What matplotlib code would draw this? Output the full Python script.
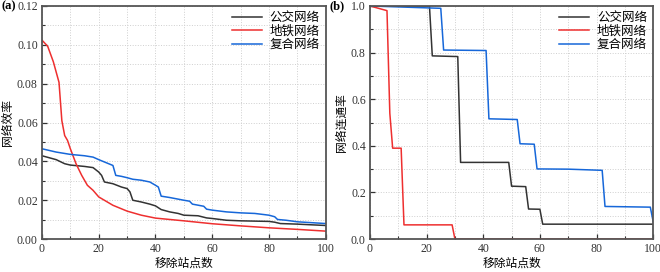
import numpy as np
import matplotlib.pyplot as plt
from matplotlib.ticker import MultipleLocator

plt.rcParams['font.family'] = ['Liberation Serif', 'Noto Sans CJK SC']

# (a) 网络效率
bus_x = [0, 5, 8, 10, 15, 18, 20, 21, 22, 25, 28, 30, 31, 32, 35, 38, 40, 42, 45, 48, 50, 55, 58, 60, 65, 70, 80, 82, 84, 90, 100]
bus_eff = [0.0429, 0.0409, 0.0388, 0.0381, 0.0374, 0.0368, 0.0345, 0.0328, 0.0294, 0.0285, 0.0268, 0.026, 0.0243, 0.020,
           0.0191, 0.018, 0.0171, 0.0152, 0.014, 0.0132, 0.0123, 0.012, 0.0109, 0.0106, 0.0097, 0.0094, 0.0091, 0.0087,
           0.008, 0.0077, 0.007]
metro_x = [0, 2, 4, 6, 7, 8, 9, 10, 12, 14, 16, 18, 20, 25, 30, 35, 40, 50, 60, 70, 80, 90, 100]
metro_eff = [0.1024, 0.0993, 0.0913, 0.0807, 0.061, 0.0533, 0.0508, 0.0465, 0.0388, 0.0328, 0.0277, 0.0251, 0.0217,
             0.0174, 0.0144, 0.0123, 0.0108, 0.0094, 0.0079, 0.0068, 0.0058, 0.005, 0.0041]
comp_x = [0, 5, 10, 15, 18, 20, 23, 25, 26, 28, 30, 32, 35, 38, 40, 41, 42, 45, 50, 52, 53, 57, 58, 60, 65, 70, 75, 80,
          82, 83, 86, 90, 100]
comp_eff = [0.0465, 0.0448, 0.0436, 0.0429, 0.0422, 0.0409, 0.0391, 0.0379, 0.0328, 0.0323, 0.0316, 0.0308, 0.0303,
            0.0294, 0.0277, 0.0268, 0.0221, 0.0214, 0.020, 0.0195, 0.018, 0.0169, 0.0154, 0.0149, 0.014, 0.0135, 0.0132,
            0.0123, 0.0115, 0.0101, 0.0097, 0.0089, 0.008]

# (b) 网络连通率
bus_cx = [0, 21, 22, 31, 32, 49, 50, 55, 56, 60, 61, 100]
bus_con = [1.0, 1.0, 0.786, 0.783, 0.329, 0.329, 0.227, 0.225, 0.129, 0.128, 0.064, 0.064]
metro_cx = [0, 6, 7, 8, 11, 12, 29, 30, 100]
metro_con = [1.0, 0.98, 0.54, 0.39, 0.39, 0.061, 0.061, 0.0, 0.0]
comp_cx = [0, 25, 26, 41, 42, 52, 53, 58, 59, 70, 82, 83, 99, 100]
comp_con = [1.0, 0.99, 0.811, 0.809, 0.516, 0.513, 0.409, 0.407, 0.301, 0.300, 0.295, 0.14, 0.137, 0.076]

labels = ['公交网络', '地铁网络', '复合网络']
colors = ['#333333', '#ee2f2f', '#1667d9']

fig = plt.figure(figsize=(6.6, 2.72), dpi=100)
ax1 = fig.add_axes([0.0636, 0.121, 0.430, 0.857])
ax2 = fig.add_axes([0.5606, 0.121, 0.429, 0.857])

for x, y, lab, c in zip([bus_x, metro_x, comp_x], [bus_eff, metro_eff, comp_eff], labels, colors):
    ax1.plot(x, y, color=c, lw=1.1, label=lab)
for x, y, lab, c in zip([bus_cx, metro_cx, comp_cx], [bus_con, metro_con, comp_con], labels, colors):
    ax2.plot(x, y, color=c, lw=1.1, label=lab)

ax1.set_ylim(0, 0.12)
ax1.yaxis.set_major_locator(MultipleLocator(0.02))
ax1.yaxis.set_minor_locator(MultipleLocator(0.01))
ax1.set_ylabel('网络效率', fontsize=8.5, labelpad=2)
ax2.set_ylim(0, 1.0)
ax2.yaxis.set_major_locator(MultipleLocator(0.2))
ax2.yaxis.set_minor_locator(MultipleLocator(0.1))
ax2.set_ylabel('网络连通率', fontsize=8.5, labelpad=2)

for ax in (ax1, ax2):
    ax.set_xlim(0, 100)
    ax.xaxis.set_major_locator(MultipleLocator(20))
    ax.xaxis.set_minor_locator(MultipleLocator(10))
    ax.set_xlabel('移除站点数', fontsize=8.5, labelpad=2)
    ax.grid(which='both', linestyle=':', color='#cfcfcf', linewidth=0.7)
    ax.tick_params(which='both', direction='in', labelsize=8.5, colors='#333333', pad=3)
    ax.tick_params(which='major', length=3.5, width=0.9)
    ax.tick_params(which='minor', length=2, width=0.8)
    for s in ax.spines.values():
        s.set_linewidth(1.3)
        s.set_color('#555555')
    ax.legend(loc='upper right', frameon=False, fontsize=9, handlelength=2.4,
              borderaxespad=0.1, labelspacing=0.1, handletextpad=0.6)

fig.text(0.003, 0.965, '(a)', fontsize=9, fontweight='bold')
fig.text(0.5, 0.965, '(b)', fontsize=9, fontweight='bold')

fig.savefig('out.png', dpi=100)
